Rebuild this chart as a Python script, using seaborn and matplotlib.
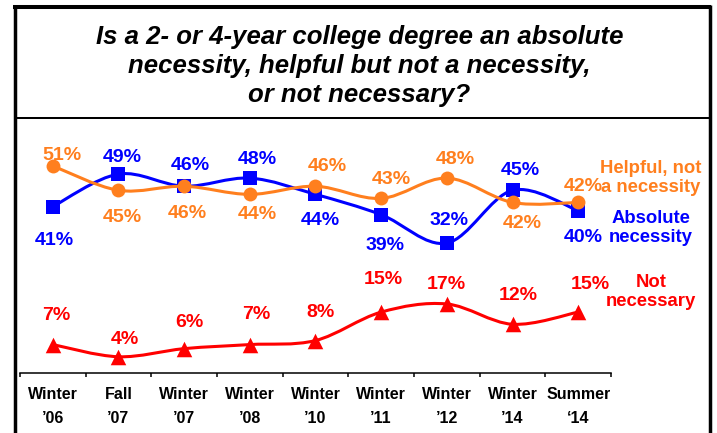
import numpy as np
import pandas as pd
import matplotlib
matplotlib.use("Agg")
import matplotlib.pyplot as plt
import seaborn as sns
from matplotlib.path import Path
from matplotlib.patches import PathPatch
from matplotlib.lines import Line2D

# ---------------- data ----------------
categories = ["Winter\n\u201906", "Fall\n\u201907", "Winter\n\u201907", "Winter\n\u201908",
              "Winter\n\u201910", "Winter\n\u201911", "Winter\n\u201912", "Winter\n\u201914",
              "Summer\n\u201814"]
absolute = [41, 49, 46, 48, 44, 39, 32, 45, 40]
helpful = [51, 45, 46, 44, 46, 43, 48, 42, 42]
not_necessary = [7, 4, 6, 7, 8, 15, 17, 12, 15]
series_labels = ["Absolute\nnecessity", "Helpful, not\na necessity", "Not\nnecessary"]
title_lines = ["Is a 2- or 4-year college degree an absolute",
               "necessity, helpful but not a necessity,",
               "or not necessary?"]

# label offsets in pixels (dx, dy up) for the baseline of each value label
abs_off = [(1, -38), (4, 12.5), (6, 16.5), (7, 14.5), (4.5, -31), (4, -35), (2, 18.5), (7.5, 15.5), (5, -31)]
help_off = [(9, 6.3), (3.5, -32), (3, -32), (7, -25), (11.5, 15.5), (10.5, 14.8), (8, 14.5), (9.5, -26), (5, 11)]
not_off = [(3, 25), (6.5, 13), (5.4, 22), (6, 26), (5.5, 24), (2, 28.5), (-1, 14.5), (5.5, 24.7), (12, 23.5)]

BLUE = "#0000FF"
ORANGE = "#FF7F1E"
RED = "#FF0000"

sns.set_theme(style="white")
plt.rcParams["font.family"] = ["Liberation Sans", "DejaVu Sans"]

W, H = 717, 433
fig = plt.figure(figsize=(W / 100, H / 100), dpi=100)
fig.patch.set_facecolor("white")

ax = fig.add_axes([20 / W, 60 / H, 591 / W, 243.6 / H])
ax.set_facecolor("none")

x = np.arange(len(categories))
df = pd.DataFrame({"x": x, "absolute": absolute, "helpful": helpful, "not_necessary": not_necessary})


def smooth_path(xs, ys):
    pts = np.column_stack([xs, ys]).astype(float)
    n = len(pts)
    verts = [pts[0]]
    codes = [Path.MOVETO]
    for i in range(n - 1):
        p0 = pts[max(i - 1, 0)]
        p1 = pts[i]
        p2 = pts[i + 1]
        p3 = pts[min(i + 2, n - 1)]
        c1 = p1 + (p2 - p0) / 6.0
        c2 = p2 - (p3 - p1) / 6.0
        verts += [c1, c2, p2]
        codes += [Path.CURVE4] * 3
    return Path(verts, codes)


specs = [
    ("absolute", BLUE, "s", 115, abs_off, 2),
    ("helpful", ORANGE, "o", 100, help_off, 4),
    ("not_necessary", RED, "^", 125, not_off, 6),
]

for col, color, marker, size, offs, z in specs:
    patch = PathPatch(smooth_path(df["x"], df[col]), facecolor="none", edgecolor=color,
                      lw=2.2, capstyle="round", joinstyle="round", zorder=z)
    ax.add_patch(patch)
    sns.scatterplot(data=df, x="x", y=col, marker=marker, s=size, color=color,
                    linewidth=0, ax=ax, zorder=z + 1, legend=False)
    for xi, v, (dx, dy) in zip(df["x"], df[col], offs):
        ax.annotate(f"{v}%", (xi, v), xytext=(dx, dy), textcoords="offset pixels",
                    ha="center", va="baseline", fontsize=14, fontweight="bold",
                    color=color, zorder=10)

ax.set_xlim(-0.5, len(categories) - 0.5)
ax.set_ylim(0, 60)
ax.set_xlabel("")
ax.set_ylabel("")
ax.set_yticks([])
ax.set_xticks(x)
ax.set_xticklabels(categories, fontsize=11.5, fontweight="bold", color="black")
for t in ax.get_xticklabels():
    t.set_linespacing(1.8)
ax.set_xticks(np.arange(-0.5, len(categories)), minor=True)
ax.tick_params(axis="x", which="major", length=0, pad=10)
ax.tick_params(axis="x", which="minor", length=3, width=1.1, color="black", direction="out", bottom=True)
for s in ["top", "left", "right"]:
    ax.spines[s].set_visible(False)
ax.spines["bottom"].set_color("black")
ax.spines["bottom"].set_linewidth(1.1)

# right-side series labels
fig.text(651 / W, 1 - 178 / H, series_labels[1], ha="center", va="center", fontsize=13.3,
         fontweight="bold", color=ORANGE, linespacing=1.15)
fig.text(651 / W, 1 - 228 / H, series_labels[0], ha="center", va="center", fontsize=13.3,
         fontweight="bold", color=BLUE, linespacing=1.1)
fig.text(651 / W, 1 - 292 / H, series_labels[2], ha="center", va="center", fontsize=13.3,
         fontweight="bold", color=RED, linespacing=1.1)

# title
for ln, yb in zip(title_lines, [43.6, 72.8, 102.0]):
    fig.text(359.5 / W, 1 - yb / H, ln, ha="center", va="baseline", fontsize=18.5,
             fontweight="bold", style="italic", color="black")

# frame lines


def fl(x0, y0, x1, y1, lw):
    fig.add_artist(Line2D([x0 / W, x1 / W], [1 - y0 / H, 1 - y1 / H], transform=fig.transFigure,
                          color="black", lw=lw, solid_capstyle="butt"))


fl(14.5, 5, 14.5, 433, 2.5)
fl(709.5, 5, 709.5, 433, 2.5)
fl(13, 7, 711, 7, 2.9)
fl(14, 117.5, 709, 117.5, 1.45)

fig.savefig("out.png", dpi=100)
